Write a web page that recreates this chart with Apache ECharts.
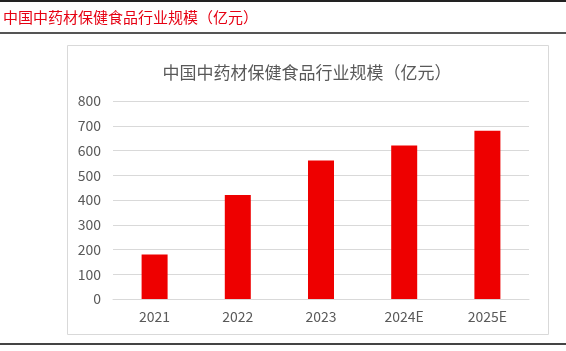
<!DOCTYPE html>
<html>
<head>
<meta charset="utf-8">
<script src="https://cdn.jsdelivr.net/npm/echarts@6/dist/echarts.min.js"></script>
<style>
html,body{margin:0;padding:0;background:#fff}
#main{width:566px;height:351px}
</style>
</head>
<body>
<div id="main"></div>
<script>
// 数据
var years = ['2021', '2022', '2023', '2024E', '2025E'];
var scale = [180, 420, 560, 620, 680];
var headTitle = '中国中药材保健食品行业规模（亿元）';
var chartTitle = '中国中药材保健食品行业规模（亿元）';

var myChart = echarts.init(document.getElementById('main'));
var font = '"Noto Sans CJK SC", "Noto Sans", sans-serif';
option = {
	animation: false,
	textStyle: { fontFamily: font },
	title: {
		text: chartTitle,
		left: 302,
		top: 59,
		textAlign: 'center',
		textStyle: {
			color: '#595959',
			fontSize: 17,
			fontWeight: 'normal',
			fontFamily: font
		}
	},
	graphic: [
		{ type: 'rect', shape: { x: 0, y: 0, width: 566, height: 2 }, style: { fill: '#222' } },
		{ type: 'text', left: 3, top: 10, style: { text: headTitle, fill: '#e60012', fontSize: 15, fontFamily: font } },
		{ type: 'rect', shape: { x: 0, y: 32, width: 566, height: 2 }, style: { fill: '#555' } },
		{ type: 'rect', shape: { x: 67.5, y: 45.5, width: 481, height: 289 }, style: { fill: 'none', stroke: '#d9d9d9', lineWidth: 1 } },
		{ type: 'rect', shape: { x: 0, y: 343, width: 566, height: 2 }, style: { fill: '#444' } }
	],
	grid: {
		left: 113,
		right: 37,
		top: 101,
		bottom: 52,
		containLabel: false
	},
	xAxis: {
		type: 'category',
		data: years,
		axisLine: { show: true, lineStyle: { color: '#d9d9d9' } },
		axisTick: { show: false },
		axisLabel: { color: '#595959', fontSize: 14, margin: 11 }
	},
	yAxis: {
		type: 'value',
		min: 0,
		max: 800,
		interval: 100,
		axisLine: { show: false },
		axisTick: { show: false },
		axisLabel: { color: '#595959', fontSize: 14, margin: 12 },
		splitLine: { lineStyle: { color: '#d9d9d9', width: 1 } }
	},
	series: [{
		type: 'bar',
		data: scale,
		barWidth: 26,
		itemStyle: { color: '#ee0000' }
	}]
};
myChart.setOption(option);
</script>
</body>
</html>
